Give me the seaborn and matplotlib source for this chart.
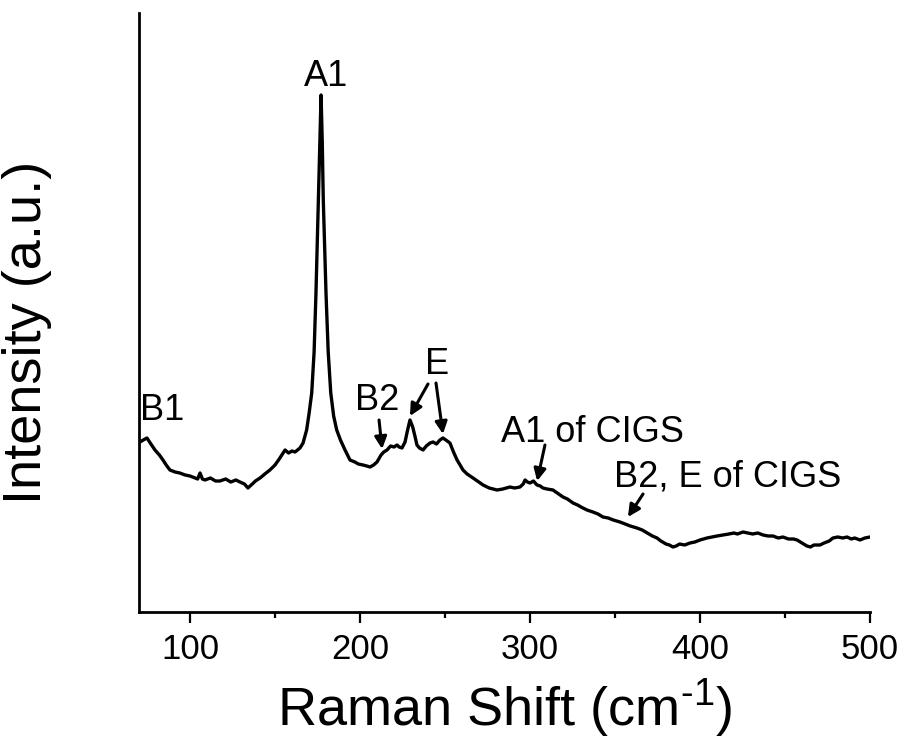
import matplotlib
matplotlib.use("Agg")
import matplotlib.pyplot as plt
import seaborn as sns
import pandas as pd

# ---- data ----
raman_shift = [
    70.6, 72.5, 74.7, 77, 79.4, 82, 84.1, 86, 88.2, 91.2, 94, 97.1, 100, 102.9, 104.5,
    105.9, 107.3, 108.8, 112, 115, 117.6, 121, 124, 127, 129.4, 132, 134.1, 136, 138.5,
    141.2, 144, 147, 150, 152.5, 155.9, 158, 160, 161.8, 164.7, 166.5, 168.6, 170, 171.6,
    173, 174.1, 175.5, 176.4, 177.1, 177.8, 178.4, 180, 181.3, 182.8, 184.5, 186.3, 188.5,
    191.2, 194.1, 197, 199, 201.8, 204, 205.9, 208, 210, 212.4, 214, 215.9, 218, 220,
    221.8, 223, 224.7, 226.5, 228, 229.4, 231, 232.3, 233.5, 235, 237.1, 239, 241.2, 243,
    245, 247, 248.8, 250.5, 252.9, 255, 257.1, 260.6, 263, 266.5, 269, 272.4, 276, 280.6,
    284, 288.2, 291, 294.1, 296, 297.1, 298.5, 300, 302, 304.1, 306, 307.6, 310, 313.5,
    316, 319.4, 322, 325.3, 328, 330, 333.5, 337, 340, 342.9, 346, 349, 352.9, 356, 359,
    362.9, 366, 369, 372, 374.7, 377, 380, 382, 384.1, 386, 388, 391, 394.1, 397, 400,
    404.1, 407, 410, 413.5, 417, 420, 422, 425.3, 428, 431, 434, 437.1, 440, 443, 446,
    448.8, 452, 455, 457.1, 459, 461, 462.9, 465, 467, 470.6, 473, 476, 478.2, 481, 484,
    486.5, 489, 491, 494.1, 497, 500,
]
intensity = [
    170, 172, 174, 168, 162, 157, 152, 147, 142, 140, 139, 137, 136, 134, 133,
    139, 133, 132, 134, 131, 131, 133, 130, 132, 130, 128, 124, 127, 131,
    134, 138, 142, 147, 153, 162, 159, 161, 160, 164, 169, 182, 198, 219,
    260, 319, 412, 470, 517, 470, 412, 319, 260, 219, 196, 182, 172,
    162, 152, 150, 148, 147, 146, 145, 147, 150, 157, 160, 162, 166, 165,
    167, 165, 164, 170, 182, 192, 185, 176, 167, 164, 162, 166, 169, 170,
    168, 172, 174, 172, 169, 160, 152, 142, 138, 134, 131, 127, 124, 122,
    123, 125, 124, 125, 128, 132, 130, 129, 131, 127, 126, 124, 123, 122,
    119, 115, 113, 109, 107, 105, 102, 100, 98, 95, 94, 92, 90, 88, 86,
    84, 82, 79, 76, 74, 71, 68, 67, 65, 66, 68, 67, 69, 70, 72,
    74, 75, 76, 77, 78, 79, 78, 80, 79, 78, 79, 77, 76, 76, 74,
    75, 73, 73, 72, 70, 68, 66, 65, 67, 67, 69, 71, 74, 75, 74,
    75, 73, 74, 72, 74, 75,
]
x_ticks = [100, 200, 300, 400, 500]
x_minor = [150, 250, 350, 450]

# peak labels: text, text position, arrow (tail, head)
labels = ["A1", "B1", "B2", "E", "A1 of CIGS", "B2, E of CIGS"]
label_x = [180, 83.5, 210, 245.3, 337, 416.2]
label_y = [536, 202, 212, 247, 180, 135]
arrows = [
    ((211.2, 192), (213.0, 163)),
    ((240.0, 228), (229.4, 196)),
    ((244.7, 229), (248.8, 178)),
    ((308.8, 167), (304.2, 131)),
    ((366.5, 118), (357.6, 95)),
]

# ---- style ----
sns.set_theme(style="ticks")
plt.rcParams["font.family"] = ["Liberation Sans", "DejaVu Sans"]
plt.rcParams["mathtext.fontset"] = "custom"
plt.rcParams["mathtext.rm"] = "Liberation Sans"
plt.rcParams["mathtext.it"] = "Liberation Sans"
plt.rcParams["text.color"] = "black"
plt.rcParams["axes.labelcolor"] = "black"
plt.rcParams["xtick.color"] = "black"
plt.rcParams["xtick.labelcolor"] = "black"

fig = plt.figure(figsize=(9.07, 7.42), dpi=100)
ax = fig.add_axes([139 / 907, 1 - 612 / 742, (870 - 139) / 907, (612 - 13) / 742])

df = pd.DataFrame({"shift": raman_shift, "intensity": intensity})
sns.lineplot(data=df, x="shift", y="intensity", ax=ax, color="black", linewidth=2.4,
             estimator=None, sort=False)

ax.set_xlim(70, 500)
ax.set_ylim(0, 599)
ax.set_xticks(x_ticks)
ax.set_xticks(x_minor, minor=True)
ax.set_yticks([])
ax.tick_params(axis="x", which="major", direction="out", length=8, width=1.6,
               labelsize=25, pad=7, colors="black")
ax.tick_params(axis="x", which="minor", direction="out", length=4, width=1.6,
               colors="black")
for s in ["top", "right"]:
    ax.spines[s].set_visible(False)
for s in ["left", "bottom"]:
    ax.spines[s].set_linewidth(2.0)
    ax.spines[s].set_color("black")

ax.set_xlabel("Raman Shift (cm$^{\\mathregular{\u20101}}$)", fontsize=39, labelpad=8,
              color="black")
ax.set_ylabel("Intensity (a.u.)", fontsize=39, color="black")
ax.yaxis.set_label_coords(-0.119, 0.466)

for t, lx, ly in zip(labels, label_x, label_y):
    ax.text(lx, ly, t, fontsize=26, ha="center", va="center", color="black")

for tail, head in arrows:
    ax.annotate("", xy=head, xytext=tail,
                arrowprops=dict(arrowstyle="-|>,head_length=0.6,head_width=0.3",
                                color="black", lw=2.2, shrinkA=0, shrinkB=0))

fig.savefig("out.png", dpi=100, facecolor="white")
